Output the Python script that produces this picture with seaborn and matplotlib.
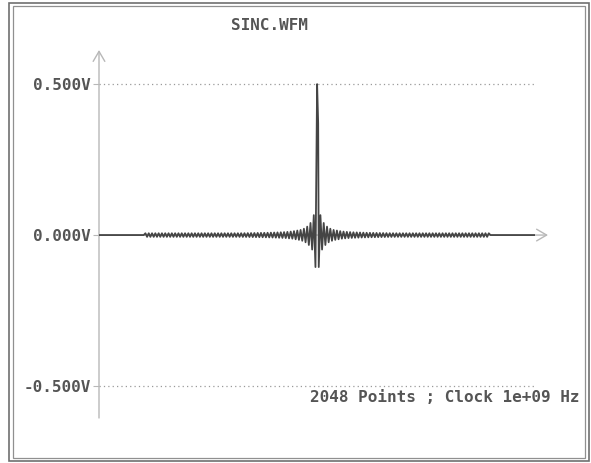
import numpy as np
import pandas as pd
import matplotlib
matplotlib.use("Agg")
import matplotlib.pyplot as plt
from matplotlib.patches import Rectangle
import seaborn as sns

# waveform: centre peak and the lobe extremes going outward
n_points = 2048
centre_point = 1024
lobe_step = 7.75          # points between neighbouring extremes
peak_volts = 0.5
shoulder_volts = 0.37     # step seen just right of the peak
shoulder_offset = 5
lobe_volts = [
    -0.106, 0.066, -0.048, 0.040, -0.033, 0.028, -0.024, 0.021,
    -0.019, 0.017, -0.016, 0.015, -0.014, 0.013, -0.012, 0.0115,
    -0.011, 0.0105, -0.010, 0.0098, -0.0095, 0.0092, -0.009, 0.0088,
    -0.0086, 0.0084, -0.0082, 0.008, -0.0078, 0.0076, -0.0075, 0.0074,
    -0.0073, 0.0072, -0.0071, 0.007, -0.0069, 0.0068, -0.0067, 0.0066,
    -0.0065, 0.0064, -0.0063, 0.0062, -0.0062, 0.0061, -0.0061, 0.006,
    -0.006, 0.006, -0.006, 0.006, -0.006, 0.006, -0.006, 0.006,
    -0.006, 0.006, -0.006, 0.006, -0.006, 0.006, -0.006, 0.006,
    -0.006, 0.006, -0.006, 0.006, -0.006, 0.006, -0.006, 0.006,
    -0.006, 0.006, -0.006, 0.006, -0.006, 0.006, -0.006, 0.006,
    -0.006, 0.006, -0.006, 0.006, -0.006, 0.006, -0.006, 0.006,
    -0.006, 0.006, -0.006, 0.006, -0.006, 0.006, -0.006, 0.006,
    -0.006, 0.006, -0.006, 0.006, -0.006, 0.006, -0.006, 0.006,
]
ytick_vals = [-0.5, 0.0, 0.5]
ytick_labels = ["-0.500V", "0.000V", "0.500V"]
title = "SINC.WFM"
footer = "2048 Points ; Clock 1e+09 Hz"

k = np.arange(1, len(lobe_volts) + 1)
last = centre_point + (len(lobe_volts) + 1) * lobe_step
first = centre_point - (len(lobe_volts) + 1) * lobe_step
xs = np.concatenate([[0, first], (centre_point - k * lobe_step)[::-1],
                     [centre_point, centre_point + shoulder_offset],
                     centre_point + k * lobe_step, [last, n_points - 1]])
ys = np.concatenate([[0, 0], lobe_volts[::-1], [peak_volts, shoulder_volts],
                     lobe_volts, [0, 0]])
df = pd.DataFrame({"point": xs, "volts": ys})

sns.set_theme(style="white")
plt.rcParams["font.family"] = ["DejaVu Sans Mono", "DejaVu Sans"]

W, H = 591, 463
fig = plt.figure(figsize=(W / 100, H / 100), dpi=100)
ax = fig.add_axes([99 / W, 45 / H, 436 / W, 368 / H])

ink = "#555555"
axis_grey = "#b8b8b8"

for v in (-0.5, 0.5):
    ax.axhline(v, color="#9a9a9a", lw=0.9, ls=(0, (1, 2.5)), zorder=1)

# axis arrows
ax.annotate("", xy=(2108, 0), xytext=(0, 0), xycoords="data",
            arrowprops=dict(arrowstyle="->,head_length=0.6,head_width=0.35",
                            color=axis_grey, lw=1, shrinkA=0, shrinkB=0),
            annotation_clip=False, zorder=1)
ax.annotate("", xy=(0, 0.613), xytext=(0, -0.606), xycoords="data",
            arrowprops=dict(arrowstyle="->,head_length=0.6,head_width=0.35",
                            color=axis_grey, lw=1, shrinkA=0, shrinkB=0),
            annotation_clip=False, zorder=1)

sns.lineplot(data=df, x="point", y="volts", ax=ax, color="#454545", lw=1.3,
             sort=False, estimator=None, zorder=3)

ax.set_xlim(0, n_points - 1)
ax.set_ylim(-0.606, 0.613)
for s in ax.spines.values():
    s.set_visible(False)
ax.set_xticks([])
ax.set_yticks(ytick_vals)
ax.set_yticklabels(ytick_labels, fontsize=11.5, fontweight="bold", color=ink)
ax.tick_params(axis="y", left=True, length=4, width=0.8, color=axis_grey, pad=2)
ax.set_xlabel("")
ax.set_ylabel("")
ax.patch.set_alpha(0)

fig.text(270 / W, 1 - 25 / H, title, ha="center", va="center", fontsize=11.5,
         fontweight="bold", color=ink)
fig.text(580 / W, 1 - 397 / H, footer, ha="right", va="center", fontsize=11.5,
         fontweight="bold", color=ink)

# double frame around the screen
fig.add_artist(Rectangle((9.5 / W, 2.5 / H), 579 / W, 458 / H, transform=fig.transFigure,
                         fill=False, ec="#707070", lw=1.2))
fig.add_artist(Rectangle((13 / W, 5.5 / H), 572 / W, 452 / H, transform=fig.transFigure,
                         fill=False, ec="#909090", lw=0.9))

fig.savefig("out.png", dpi=100)
